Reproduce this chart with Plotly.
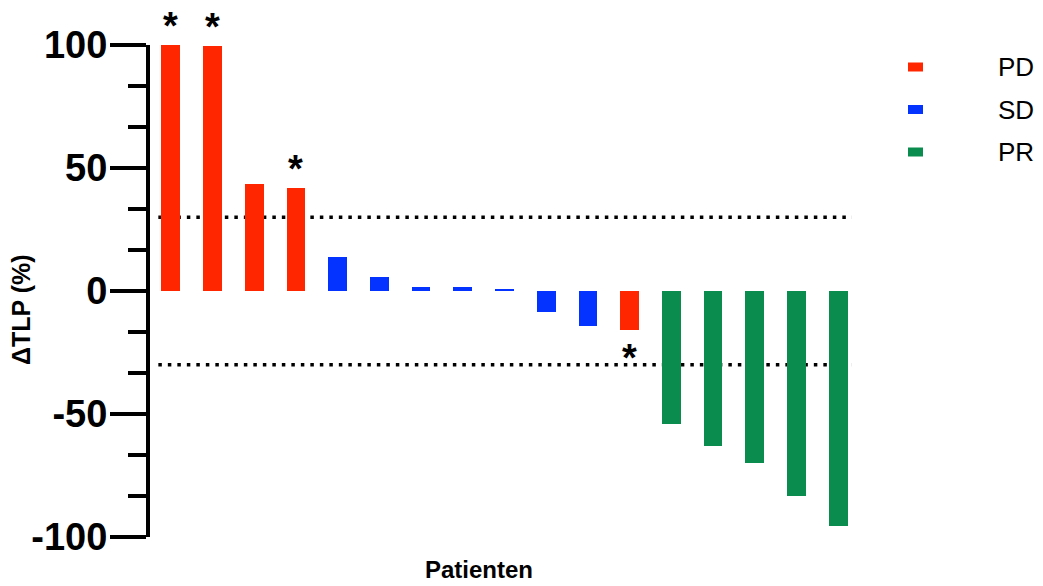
import plotly.graph_objects as go

# ---------------- data ----------------
patients = list(range(17))
delta_tlp = [100.0, 99.6, 43.5, 42.0, 13.9, 5.7, 1.5, 1.5, 0.8, -8.4, -14.4, -15.7,
             -54.0, -62.9, -69.8, -83.5, -95.6]
response = ["PD", "PD", "PD", "PD", "SD", "SD", "SD", "SD", "SD", "SD", "SD", "PD",
            "PR", "PR", "PR", "PR", "PR"]
asterisk = [True, True, False, True, False, False, False, False, False, False, False, True,
            False, False, False, False, False]
categories = ["PD", "SD", "PR"]
cat_colors = {"PD": "#FF2600", "SD": "#0433FF", "PR": "#0B8C4F"}
thresholds = [30, -30]
y_ticks = [100, 50, 0, -50, -100]

FONT = "Liberation Sans, Arial, Helvetica, sans-serif"

fig = go.Figure()
fig.add_trace(go.Bar(
    x=patients, y=delta_tlp, width=0.45,
    marker=dict(color=[cat_colors[r] for r in response], line=dict(width=0)),
    showlegend=False, hoverinfo="skip",
))

# dotted reference lines
for t in thresholds:
    fig.add_shape(type="line", xref="x", yref="y", x0=-0.3, x1=16.33, y0=t, y1=t,
                  line=dict(color="black", width=3.5, dash="3.5px,6px"), layer="below")

# asterisks
for xi, v, a in zip(patients, delta_tlp, asterisk):
    if a:
        fig.add_annotation(x=xi, y=v, text="<b>*</b>", showarrow=False,
                           yanchor="middle", yshift=(19 if v > 0 else -28),
                           font=dict(size=38, color="black", family=FONT))

# manual legend
plot_w = 1043 - 150 - 184
plot_h = 586 - 45 - 49
for i, c in enumerate(categories):
    yc = (537 - (67 + 42.5 * i)) / plot_h
    fig.add_shape(type="rect", xref="paper", yref="paper",
                  x0=(908 - 150) / plot_w, x1=(923 - 150) / plot_w,
                  y0=yc - 4.5 / plot_h, y1=yc + 4.5 / plot_h,
                  fillcolor=cat_colors[c], line=dict(width=0))
    fig.add_annotation(xref="paper", yref="paper", x=(996 - 150) / plot_w, y=yc,
                       text=c, showarrow=False, xanchor="left", yanchor="middle",
                       font=dict(size=26, color="black", family=FONT))

# axis titles
fig.add_annotation(xref="paper", yref="paper", x=(21 - 150) / plot_w, y=(537 - 310) / plot_h,
                   text="<b>ΔTLP (%)</b>", textangle=-90, showarrow=False,
                   xanchor="center", yanchor="middle",
                   font=dict(size=25, color="black", family=FONT))
fig.add_annotation(xref="paper", yref="paper", x=(478.5 - 150) / plot_w, y=(537 - 569) / plot_h,
                   text="<b>Patienten</b>", showarrow=False,
                   xanchor="center", yanchor="middle",
                   font=dict(size=24, color="black", family=FONT))

fig.update_layout(
    width=1043, height=586,
    margin=dict(l=150, r=184, t=45, b=49),
    paper_bgcolor="white", plot_bgcolor="white",
    font=dict(family=FONT, color="black"),
    xaxis=dict(range=[-0.5, 16.5], showgrid=False, zeroline=False, showline=False,
               showticklabels=False, ticks=""),
    yaxis=dict(range=[-100, 100], showgrid=False, zeroline=False,
               showline=True, linecolor="black", linewidth=4,
               tickmode="array", tickvals=y_ticks,
               ticktext=[f"<b>{v}</b>" for v in y_ticks],
               ticks="outside", ticklen=36, tickwidth=4, tickcolor="black",
               ticklabelstandoff=-5,
               tickfont=dict(size=38, color="black", family=FONT),
               minor=dict(dtick=50 / 3, tick0=0, ticks="outside", ticklen=18,
                          tickwidth=4, tickcolor="black")),
    bargap=0,
)

fig.write_html("out.html", config={"displayModeBar": False},
               post_script="document.body.style.margin='0';document.body.style.padding='0';")
